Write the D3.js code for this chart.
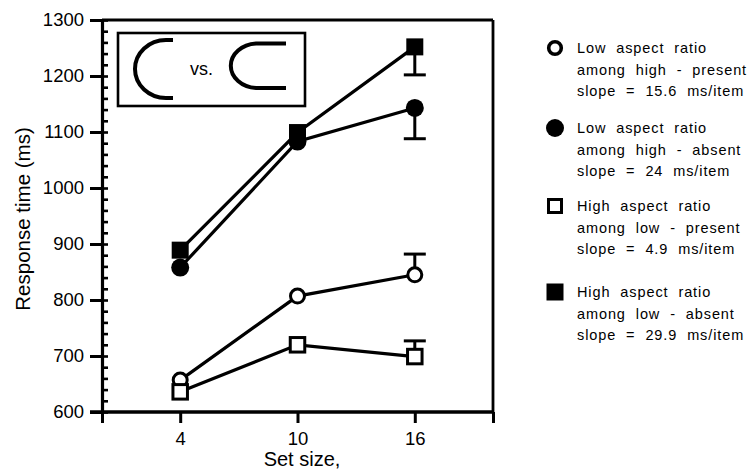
<!DOCTYPE html>
<html>
<head>
<meta charset="utf-8">
<script src="https://cdn.jsdelivr.net/npm/d3@7"></script>
<style>
  html, body { margin: 0; padding: 0; background: #fff; }
  svg { display: block; font-family: "Liberation Sans", Arial, Helvetica, sans-serif; }
</style>
</head>
<body>
<svg id="chart" width="756" height="472"></svg>
<script>
// ---- data ----
const setSizes = [4, 10, 16];
const xTickValues = [0, 4, 10, 16, 20];
const xTickLabels = ["", "4", "10", "16", ""];
const yMajorTicks = [600, 700, 800, 900, 1000, 1100, 1200, 1300];
const yMinorTicks = d3.range(600, 1301, 20);

const seriesNames = ["lowHighPresent", "lowHighAbsent", "highLowPresent", "highLowAbsent"];
const lowHighPresent = [657, 807, 845];
const lowHighAbsent = [858, 1083, 1143];
const highLowPresent = [636, 720, 699];
const highLowAbsent = [889, 1099, 1252];
// error bars (only at set size 16); sign gives direction (+ up, - down)
const errLowHighPresent = [null, null, 37];
const errLowHighAbsent = [null, null, -55];
const errHighLowPresent = [null, null, 28];
const errHighLowAbsent = [null, null, -50];

const legendLine1 = ["Low aspect ratio", "Low aspect ratio", "High aspect ratio", "High aspect ratio"];
const legendLine2 = ["among high - present", "among high - absent", "among low - present", "among low - absent"];
const legendSlopes = ["15.6", "24", "4.9", "29.9"];

// ---- layout ----
const svg = d3.select("#chart");
const x = d3.scaleLinear().domain([0, 20]).range([102, 493]);
const y = d3.scaleLinear().domain([600, 1300]).range([412, 20]);

const series = [
  { name: seriesNames[0], values: lowHighPresent, err: errLowHighPresent, shape: "circle", filled: false },
  { name: seriesNames[1], values: lowHighAbsent, err: errLowHighAbsent, shape: "circle", filled: true },
  { name: seriesNames[2], values: highLowPresent, err: errHighLowPresent, shape: "square", filled: false },
  { name: seriesNames[3], values: highLowAbsent, err: errHighLowAbsent, shape: "square", filled: true }
];

// frame (top & right)
svg.append("line").attr("x1", x(0)).attr("x2", x(20)).attr("y1", y(1300)).attr("y2", y(1300))
  .attr("stroke", "#000").attr("stroke-width", 2.8);
svg.append("line").attr("x1", x(20)).attr("x2", x(20)).attr("y1", y(1300)).attr("y2", y(600))
  .attr("stroke", "#000").attr("stroke-width", 2.8);

// y axis major (outward, with labels)
const yAxis = svg.append("g").attr("transform", `translate(${x(0)},0)`)
  .call(d3.axisLeft(y).tickValues(yMajorTicks).tickSize(12).tickSizeOuter(0).tickPadding(6).tickFormat(d3.format("d")));
yAxis.select(".domain").attr("stroke-width", 3.2);
yAxis.selectAll(".tick line").attr("stroke-width", 3);
yAxis.selectAll(".tick text").attr("font-size", 18.5).attr("fill", "#000")
  .attr("font-family", "Liberation Sans, Arial, sans-serif");

// y axis minor (inward)
const yMinor = svg.append("g").attr("transform", `translate(${x(0)},0)`)
  .call(d3.axisRight(y).tickValues(yMinorTicks).tickSize(6).tickSizeOuter(0).tickFormat(""));
yMinor.select(".domain").remove();
yMinor.selectAll(".tick line").attr("stroke-width", 2.6);

// x axis
const xAxis = svg.append("g").attr("transform", `translate(0,${y(600)})`)
  .call(d3.axisBottom(x).tickValues(xTickValues).tickSize(11).tickSizeOuter(0).tickPadding(9)
    .tickFormat((d, i) => xTickLabels[i]));
xAxis.select(".domain").attr("stroke-width", 3.4).attr("d", `M${x(0) - 12},0H${x(20)}`);
xAxis.selectAll(".tick line").attr("stroke-width", 3);
xAxis.selectAll(".tick text").attr("font-size", 18.5).attr("fill", "#000")
  .attr("font-family", "Liberation Sans, Arial, sans-serif");

// axis titles
svg.append("text").attr("transform", `translate(30,219) rotate(-90)`).attr("text-anchor", "middle")
  .attr("font-size", 20.5).text("Response time (ms)");
svg.append("text").attr("x", 302).attr("y", 466).attr("text-anchor", "middle")
  .attr("font-size", 20).text("Set size,");

// inset box
svg.append("rect").attr("x", 118).attr("y", 33).attr("width", 187).attr("height", 73)
  .attr("fill", "none").attr("stroke", "#000").attr("stroke-width", 2.6);
svg.append("path").attr("d", "M173,40 L166,40 A31 29 0 0 0 166,98 L173,98")
  .attr("fill", "none").attr("stroke", "#000").attr("stroke-width", 4);
svg.append("path").attr("d", "M286,43.5 L256,43.5 A27 22.3 0 0 0 256,88 L286,88")
  .attr("fill", "none").attr("stroke", "#000").attr("stroke-width", 4);
svg.append("text").attr("x", 190).attr("y", 75).attr("font-size", 18).text("vs.");

// lines
const line = d3.line().x((d, i) => x(setSizes[i])).y(d => y(d));
series.forEach(s => {
  svg.append("path").datum(s.values).attr("d", line)
    .attr("fill", "none").attr("stroke", "#000").attr("stroke-width", 3.2);
});

// error bars
series.forEach(s => {
  s.err.forEach((e, i) => {
    if (e == null) return;
    const cx = x(setSizes[i]);
    const v0 = s.values[i], v1 = v0 + e;
    svg.append("line").attr("x1", cx).attr("x2", cx).attr("y1", y(v0)).attr("y2", y(v1))
      .attr("stroke", "#000").attr("stroke-width", 3);
    svg.append("line").attr("x1", cx - 11).attr("x2", cx + 11).attr("y1", y(v1)).attr("y2", y(v1))
      .attr("stroke", "#000").attr("stroke-width", 3);
  });
});

// markers
function drawMarker(g, shape, filled, cx, cy, big) {
  if (shape === "circle") {
    if (filled) {
      g.append("circle").attr("cx", cx).attr("cy", cy).attr("r", 9).attr("fill", "#000");
    } else {
      g.append("circle").attr("cx", cx).attr("cy", cy).attr("r", big ? 7 : 6.3)
        .attr("fill", "#fff").attr("stroke", "#000").attr("stroke-width", big ? 3 : 3.6);
    }
  } else {
    if (filled) {
      const s = 17;
      g.append("rect").attr("x", cx - s / 2).attr("y", cy - s / 2).attr("width", s).attr("height", s).attr("fill", "#000");
    } else {
      const s = big ? 14.5 : 13;
      g.append("rect").attr("x", cx - s / 2).attr("y", cy - s / 2).attr("width", s).attr("height", s)
        .attr("fill", "#fff").attr("stroke", "#000").attr("stroke-width", 3);
    }
  }
}
const markerG = svg.append("g");
// draw filled circle before filled square so the square sits on top at 10
[1, 3, 0, 2].forEach(k => {
  const s = series[k];
  s.values.forEach((v, i) => drawMarker(markerG, s.shape, s.filled, x(setSizes[i]), y(v), true));
});

// legend
const legendSymbolY = [48, 128, 206, 292];
const legendG = svg.append("g");
series.forEach((s, k) => {
  const sy = legendSymbolY[k];
  drawMarker(legendG, s.shape, s.filled, 555, sy, false);
  const t = legendG.append("text").attr("x", 577).attr("y", sy + 5.3)
    .attr("font-size", 14.5).attr("letter-spacing", 0.9).attr("word-spacing", 5);
  t.append("tspan").attr("x", 577).attr("dy", 0).text(legendLine1[k]);
  t.append("tspan").attr("x", 577).attr("dy", 21.5).text(legendLine2[k]);
  t.append("tspan").attr("x", 577).attr("dy", 21.5).text(`slope = ${legendSlopes[k]} ms/item`);
});
</script>
</body>
</html>
